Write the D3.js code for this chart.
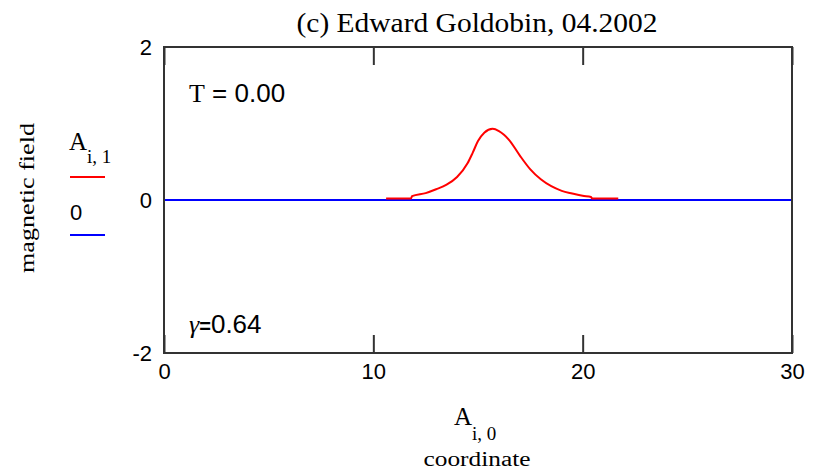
<!DOCTYPE html>
<html>
<head>
<meta charset="utf-8">
<script src="https://cdn.jsdelivr.net/npm/d3@7"></script>
<style>
  html, body { margin: 0; padding: 0; background: #fff; }
  svg { display: block; }
</style>
</head>
<body>
<svg id="chart" width="813" height="469"></svg>
<script>
// Fluxon profile: magnetic field vs. coordinate
const coordinate = [10.61, 11.80, 11.85, 12.5, 13.0, 13.5, 14.0, 14.5, 14.75, 15.0, 15.3, 15.7,
                    16.0, 16.5, 17.0, 17.5, 18.0, 18.5, 19.0, 19.5, 20.0, 20.4, 20.45, 21.70];
const field      = [0.02, 0.02, 0.05, 0.09, 0.14, 0.20, 0.30, 0.48, 0.62, 0.77, 0.88, 0.93,
                    0.90, 0.78, 0.58, 0.40, 0.27, 0.18, 0.12, 0.085, 0.055, 0.04, 0.02, 0.02];
const zeroX = [0, 30];
const zeroY = [0, 0];
const xTicks = [0, 10, 20, 30];
const yTicks = [-2, 0, 2];
const yTickLabels = ["-2", "0", "2"];

const svg = d3.select("#chart");
const L = 164, R = 792, T = 47, B = 353;

const x = d3.scaleLinear().domain([0, 30]).range([L, R]);
const y = d3.scaleLinear().domain([-2, 2]).range([B, T]);

const sans = "'Liberation Sans', Arial, sans-serif";
const serif = "'Liberation Serif', 'Times New Roman', serif";
const frameColor = "#333";

// title
svg.append("text")
  .attr("x", 477).attr("y", 32)
  .attr("text-anchor", "middle")
  .attr("font-family", serif).attr("font-size", 28)
  .attr("textLength", 361).attr("lengthAdjust", "spacingAndGlyphs")
  .text("(c) Edward Goldobin, 04.2002");

// zero line
const lineGen = d3.line().x(d => x(d[0])).y(d => y(d[1]));
svg.append("path")
  .datum(d3.zip(zeroX, zeroY))
  .attr("d", lineGen)
  .attr("fill", "none").attr("stroke", "#0000ff").attr("stroke-width", 2);

// field curve
svg.append("path")
  .datum(d3.zip(coordinate, field))
  .attr("d", lineGen.curve(d3.curveMonotoneX))
  .attr("fill", "none").attr("stroke", "#ff0000").attr("stroke-width", 2);

// frame
svg.append("rect")
  .attr("x", L).attr("y", T).attr("width", R - L).attr("height", B - T)
  .attr("fill", "none").attr("stroke", frameColor).attr("stroke-width", 2);

// bottom axis: inner ticks and labels
const xb = svg.append("g").attr("transform", `translate(0,${B})`)
  .call(d3.axisBottom(x).tickValues(xTicks).tickSizeInner(-18).tickSizeOuter(0).tickPadding(10).tickFormat(d3.format("d")));
xb.select(".domain").remove();
xb.selectAll("line").attr("stroke", frameColor).attr("stroke-width", 2);
xb.selectAll("text").attr("font-family", sans).attr("font-size", 22).attr("fill", "#000");

// top axis: inner ticks only
const xt = svg.append("g").attr("transform", `translate(0,${T})`)
  .call(d3.axisTop(x).tickValues(xTicks).tickSizeInner(-18).tickSizeOuter(0).tickFormat(""));
xt.select(".domain").remove();
xt.selectAll("line").attr("stroke", frameColor).attr("stroke-width", 2);

// left axis labels
const yl = svg.append("g").attr("transform", `translate(${L},0)`)
  .call(d3.axisLeft(y).tickValues(yTicks).tickSize(0).tickPadding(12)
    .tickFormat((d, i) => yTickLabels[i]));
yl.select(".domain").remove();
yl.selectAll("text").attr("font-family", sans).attr("font-size", 22).attr("fill", "#000");

// annotations inside the plot
const tLabel = svg.append("text").attr("x", 189).attr("y", 102).attr("font-size", 26);
tLabel.append("tspan").attr("font-family", serif).text("T");
tLabel.append("tspan").attr("font-family", sans).text(" = 0.00");

const gLabel = svg.append("text").attr("x", 189).attr("y", 333).attr("font-size", 26);
gLabel.append("tspan").attr("font-family", serif).attr("font-style", "italic").text("γ");
gLabel.append("tspan").attr("font-family", sans).attr("font-weight", "bold").attr("font-size", 20).text("=");
gLabel.append("tspan").attr("font-family", sans).text("0.64");

// legend
svg.append("text").attr("x", 69).attr("y", 150)
  .attr("font-family", serif).attr("font-size", 25).text("A");
svg.append("text").attr("x", 87).attr("y", 163)
  .attr("font-family", serif).attr("font-size", 19).text("i, 1");
svg.append("line").attr("x1", 70).attr("x2", 105).attr("y1", 177).attr("y2", 177)
  .attr("stroke", "#ff0000").attr("stroke-width", 2);
svg.append("text").attr("x", 70).attr("y", 220)
  .attr("font-family", sans).attr("font-size", 22).text("0");
svg.append("line").attr("x1", 70).attr("x2", 105).attr("y1", 235).attr("y2", 235)
  .attr("stroke", "#0000ff").attr("stroke-width", 2);

// y axis title
svg.append("text")
  .attr("transform", "translate(34,198) rotate(-90)")
  .attr("text-anchor", "middle")
  .attr("font-family", serif).attr("font-size", 20)
  .attr("textLength", 150).attr("lengthAdjust", "spacingAndGlyphs")
  .text("magnetic field");

// x axis title
svg.append("text").attr("x", 454).attr("y", 425)
  .attr("font-family", serif).attr("font-size", 25).text("A");
svg.append("text").attr("x", 472).attr("y", 440)
  .attr("font-family", serif).attr("font-size", 19).text("i, 0");
svg.append("text")
  .attr("x", 477).attr("y", 466)
  .attr("text-anchor", "middle")
  .attr("font-family", serif).attr("font-size", 20)
  .attr("textLength", 107).attr("lengthAdjust", "spacingAndGlyphs")
  .text("coordinate");
</script>
</body>
</html>
